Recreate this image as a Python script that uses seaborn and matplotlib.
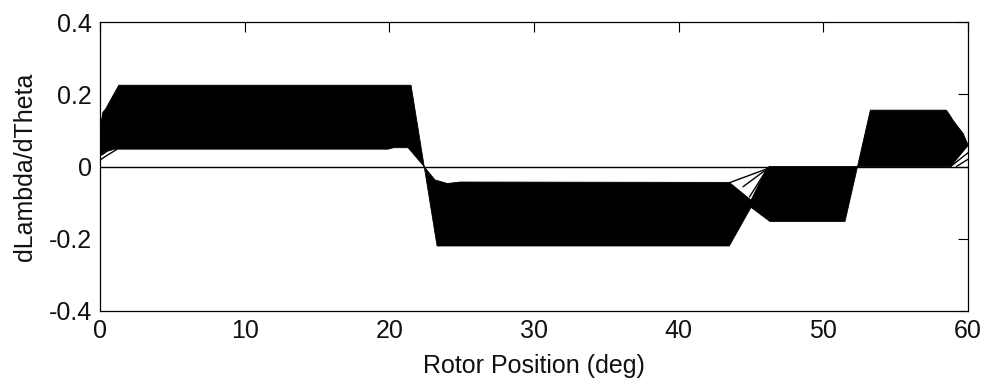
import numpy as np
import pandas as pd
import matplotlib
matplotlib.use("Agg")
import matplotlib.pyplot as plt
import seaborn as sns

# ---- data ----
# outer (high-current) boundary of the dense curve family
x_outer = [0.0, 0.2, 0.4, 1.3, 21.5, 23.3, 43.5, 45.0, 46.3, 51.5, 53.25, 58.5, 58.7, 58.95, 59.3, 59.66, 60.0]
y_outer = [0.105, 0.15, 0.16, 0.225, 0.225, -0.22, -0.22, -0.113, -0.152, -0.152, 0.156, 0.156, 0.145, 0.129, 0.11, 0.092, 0.06]

# inner (low-current) boundary of the solid black band
x_inner = [0.0, 0.2, 0.5, 1.0, 19.9, 20.3, 21.3, 22.4, 23.15, 24.0, 24.9, 43.5, 45.0, 46.07, 46.3, 58.8, 60.0]
y_inner = [0.03, 0.033, 0.042, 0.048, 0.048, 0.052, 0.052, 0.0, -0.037, -0.047, -0.043, -0.044, -0.093, -0.007, 0.0, 0.0, 0.058]

# individual thin curves visible at the edges of the band
x_zero = [0.0, 60.0]
y_zero = [0.0, 0.0]
x_low_start = [0.0, 0.3, 0.7, 1.15]
y_low_start = [0.018, 0.026, 0.036, 0.047]
x_wedge_a = [43.5, 46.07, 46.3]
y_wedge_a = [-0.045, -0.007, 0.0]
x_wedge_b = [44.45, 46.07]
y_wedge_b = [-0.056, -0.008]
x_wedge_c = [44.9, 46.07]
y_wedge_c = [-0.084, -0.01]
x_end_a = [58.8, 60.0]
y_end_a = [0.0, 0.038]
x_end_b = [59.2, 60.0]
y_end_b = [0.0, 0.02]

x_ticks = [0, 10, 20, 30, 40, 50, 60]
y_ticks = [-0.4, -0.2, 0, 0.2, 0.4]
y_tick_labels = ["-0.4", "-0.2", "0", "0.2", "0.4"]

sns.set_style("white")
plt.rcParams["font.family"] = ["Liberation Sans", "DejaVu Sans"]
plt.rcParams["text.color"] = "black"
plt.rcParams["axes.labelcolor"] = "black"

fig = plt.figure(figsize=(9.84, 3.87), dpi=100)
ax = fig.add_axes([100 / 984, 76 / 387, 868 / 984, 289 / 387])

# dense band of curves
poly_x = np.concatenate([x_outer, x_inner[::-1]])
poly_y = np.concatenate([y_outer, y_inner[::-1]])
ax.fill(poly_x, poly_y, color="black", lw=0.6, zorder=2)

lines = [
    (x_zero, y_zero), (x_low_start, y_low_start),
    (x_wedge_a, y_wedge_a), (x_wedge_b, y_wedge_b), (x_wedge_c, y_wedge_c),
    (x_end_a, y_end_a), (x_end_b, y_end_b),
]
for i, (xs, ys) in enumerate(lines):
    df = pd.DataFrame({"x": xs, "y": ys})
    sns.lineplot(data=df, x="x", y="y", ax=ax, color="black", lw=1.0, sort=False,
                 estimator=None, zorder=3)

ax.set_xlim(0, 60)
ax.set_ylim(-0.4, 0.4)
ax.set_xticks(x_ticks)
ax.set_xticklabels([str(t) for t in x_ticks])
ax.set_yticks(y_ticks)
ax.set_yticklabels(y_tick_labels)
ax.tick_params(direction="in", length=7.5, width=0.8, top=True, right=True,
               labelsize=18, colors="black", labelcolor="#111111", pad=6)
ax.set_xlabel("Rotor Position (deg)", fontsize=18, labelpad=8, color="#111111")
ax.set_ylabel("dLambda/dTheta", fontsize=18, labelpad=8, color="#111111")
for s in ax.spines.values():
    s.set_visible(True)
    s.set_color("black")
    s.set_linewidth(0.9)

fig.savefig("out.png", dpi=100, facecolor="white")
